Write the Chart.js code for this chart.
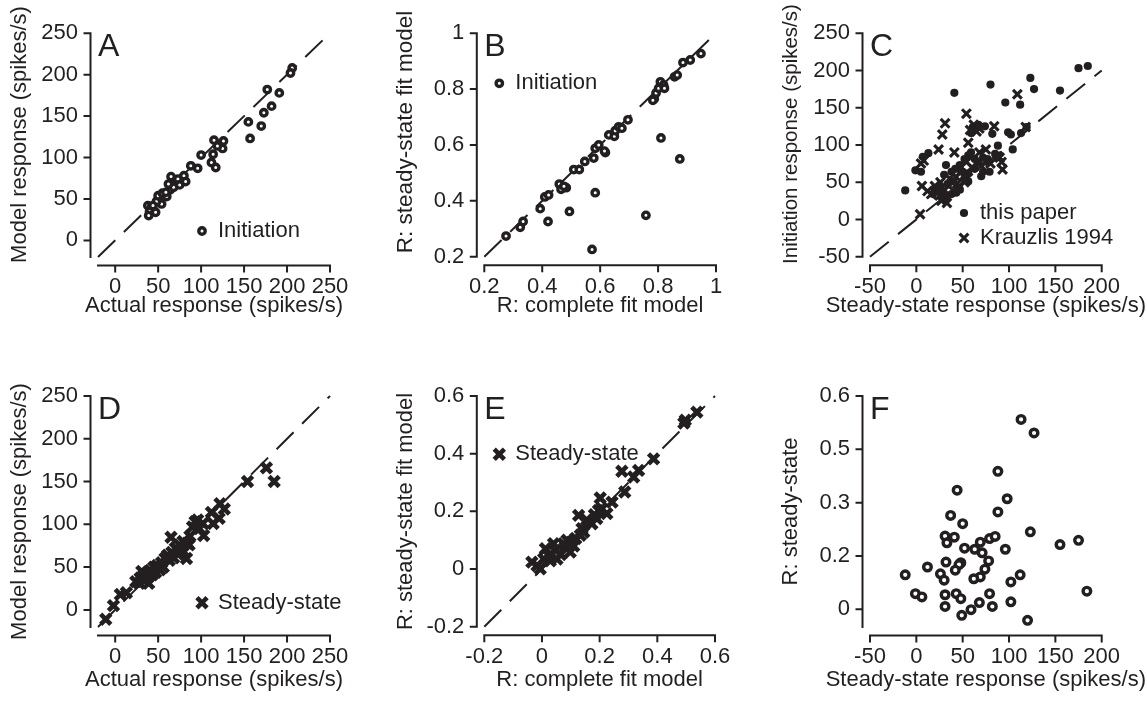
<!DOCTYPE html>
<html>
<head>
<meta charset="utf-8">
<title>Model fits</title>
<script src="https://cdn.jsdelivr.net/npm/chart.js@4.4.1/dist/chart.umd.min.js"></script>
<style>
  html, body { margin: 0; padding: 0; background: #fff; }
  #wrap { position: relative; width: 1147px; height: 701px; overflow: hidden; }
  #wrap canvas { position: absolute; left: 0; top: 0; }
</style>
</head>
<body>
<div id="wrap">
  <canvas id="panelA" width="1147" height="701"></canvas>
  <canvas id="panelB" width="1147" height="701"></canvas>
  <canvas id="panelC" width="1147" height="701"></canvas>
  <canvas id="panelD" width="1147" height="701"></canvas>
  <canvas id="panelE" width="1147" height="701"></canvas>
  <canvas id="panelF" width="1147" height="701"></canvas>
</div>
<script>
// ---- data ----

// A: initiation, actual vs model response (spikes/s)
const aActual = [206, 204, 177, 191, 182, 173, 170, 155, 157, 115, 126, 125, 119, 114, 112, 117, 100, 88, 96, 80, 82, 73, 65, 65, 75, 64, 60, 50, 54, 48, 38, 42, 40, 47, 39, 44, 50, 55, 59, 68, 62];
const aModel  = [208, 202, 182, 178, 162, 154, 138, 143, 123, 121, 120, 111, 114, 104, 94, 88, 103, 90, 87, 78, 71, 74, 77, 68, 67, 61, 53, 49, 44, 47, 42, 40, 35, 34, 30, 42, 54, 57, 58, 64, 68];

// B: initiation, R of complete fit vs R of steady-state fit
const bComplete = [0.275, 0.324, 0.334, 0.393, 0.420, 0.409, 0.422, 0.494, 0.459, 0.465, 0.483, 0.475, 0.583, 0.572, 0.758, 0.509, 0.528, 0.547, 0.578, 0.583, 0.595, 0.618, 0.615, 0.630, 0.649, 0.652, 0.664, 0.675, 0.696, 0.810, 0.875, 0.787, 0.782, 0.793, 0.802, 0.808, 0.819, 0.822, 0.857, 0.866, 0.886, 0.911, 0.948];
const bSteady   = [0.274, 0.305, 0.326, 0.372, 0.326, 0.414, 0.421, 0.362, 0.460, 0.441, 0.447, 0.452, 0.429, 0.226, 0.348, 0.512, 0.512, 0.541, 0.553, 0.588, 0.600, 0.573, 0.578, 0.636, 0.631, 0.651, 0.665, 0.660, 0.690, 0.625, 0.550, 0.765, 0.760, 0.786, 0.803, 0.826, 0.815, 0.803, 0.844, 0.850, 0.895, 0.904, 0.927];

// C: steady-state vs initiation response (spikes/s)
const cPaperSteady = [-12, 41, 80, 123, 127, 155, 175, 185, 96, 112, 99, 102, 104, 113, 119, 88, 13, 7, -1, 5, 32, 47, 72, 79, 77, 61, 67, 74, 82, 59, 30, 38, 42, 47, 52, 56, 50, 56, 63, 67, 70, 77, 56, 40, 34, 25, 27, 20, 18, 38, 43, 32, 52, 59, 72, 85, 63];
const cPaperInit   = [39, 170, 181, 190, 175, 173, 203, 206, 157, 154, 117, 114, 94, 116, 124, 99, 89, 84, 66, 64, 73, 40, 64, 64, 77, 124, 127, 125, 115, 116, 60, 64, 68, 73, 81, 86, 64, 62, 68, 77, 58, 81, 51, 51, 47, 42, 36, 42, 34, 34, 36, 30, 55, 90, 83, 88, 81];
const cKrauzSteady = [4, 109, 54, 31, 28, 24, 8, 5, 41, 84, 75, 62, 68, 56, 92, 93, 90, 6, 12, 16, 27, 33, 25, 36, 43, 47, 54, 68, 58, 65, 118, 88, 48, 30, 20, 35, 60, 52, 44, 26, 70, 80];
const cKrauzInit   = [7, 168, 142, 129, 114, 94, 79, 75, 90, 125, 94, 127, 122, 103, 77, 67, 83, 45, 38, 34, 25, 22, 32, 55, 57, 63, 77, 90, 120, 118, 124, 85, 70, 40, 45, 45, 70, 50, 48, 50, 72, 75];

// D: steady-state, actual vs model response (spikes/s)
const dActual = [-11, -2, 6, 13, 65, 86, 71, 83, 96, 103, 112, 122, 127, 114, 102, 121, 154, 176, 185, 24, 28, 29, 33, 34, 37, 38, 41, 43, 45, 47, 49, 52, 54, 56, 61, 63, 66, 68, 70, 73, 75, 77, 79, 80, 84, 87, 90, 93, 98, 31, 39, 58];
const dModel  = [-11, 5, 18, 20, 85, 76, 72, 60, 105, 87, 114, 124, 118, 101, 101, 107, 150, 166, 150, 33, 31, 37, 40, 35, 43, 38, 46, 41, 50, 44, 52, 47, 55, 50, 64, 58, 67, 61, 72, 65, 76, 70, 80, 68, 78, 86, 97, 103, 95, 45, 31, 60];

// E: steady-state, R of complete fit vs R of steady-state fit
const eComplete = [0.537, 0.497, 0.492, 0.387, 0.277, 0.335, 0.318, 0.287, 0.243, 0.202, 0.208, 0.225, 0.127, 0.173, 0.190, 0.139, 0.133, 0.117, 0.087, 0.081, 0.098, 0.075, 0.040, 0.012, 0.023, 0.006, -0.006, -0.035, -0.017, 0.029, 0.046, 0.052, 0.110, 0.100, 0.065, 0.155, 0.196, 0.182, 0.145];
const eSteady   = [0.544, 0.516, 0.506, 0.382, 0.339, 0.342, 0.319, 0.267, 0.232, 0.246, 0.209, 0.192, 0.186, 0.157, 0.175, 0.140, 0.117, 0.106, 0.100, 0.077, 0.059, 0.088, 0.088, 0.070, 0.047, 0.035, 0.001, 0.024, 0.012, 0.029, 0.065, 0.035, 0.080, 0.092, 0.050, 0.170, 0.203, 0.188, 0.128];

// F: steady-state response vs R steady-state
const fSteady = [113, 127, 88, 44, 98, 88, 37, 50, 123, 155, 175, 184, 31, 41, 33, 52, 63, 69, 71, 79, 85, 96, 78, 74, 69, 62, 48, 46, 42, 32, 26, 30, 12, -12, -1, 6, 31, 31, 43, 48, 49, 59, 68, 79, 82, 102, 102, 112, 120];
const fR      = [0.534, 0.496, 0.388, 0.335, 0.311, 0.274, 0.264, 0.241, 0.218, 0.182, 0.194, 0.051, 0.206, 0.203, 0.187, 0.172, 0.169, 0.189, 0.159, 0.199, 0.205, 0.169, 0.136, 0.113, 0.091, 0.086, 0.131, 0.126, 0.110, 0.133, 0.100, 0.082, 0.119, 0.097, 0.044, 0.035, 0.041, 0.008, 0.044, 0.030, -0.017, -0.001, 0.019, 0.044, 0.008, 0.021, 0.077, 0.097, -0.031];

// unity lines (start, end)
const diagResp  = [-20, 250];
const diagR     = [0.2, 1];
const diagC     = [-50, 200];
const diagRss   = [-0.2, 0.6];

// tick values and labels
const respTicks   = [0, 50, 100, 150, 200, 250];
const respLabels  = ['0', '50', '100', '150', '200', '250'];
const rTicks      = [0.2, 0.4, 0.6, 0.8, 1];
const rLabels     = ['0.2', '0.4', '0.6', '0.8', '1'];
const cxTicks     = [-50, 0, 50, 100, 150, 200];
const cxLabels    = ['-50', '0', '50', '100', '150', '200'];
const cyTicks     = [-50, 0, 50, 100, 150, 200, 250];
const cyLabels    = ['-50', '0', '50', '100', '150', '200', '250'];
const rssTicks    = [-0.2, 0, 0.2, 0.4, 0.6];
const rssLabels   = ['-0.2', '0', '0.2', '0.4', '0.6'];
const fyTicks     = [0, 0.15, 0.3, 0.45, 0.6];
const fyLabels    = ['0', '0.2', '0.3', '0.5', '0.6'];

// ---- styling ----
const W = 1147, H = 701;
const ink = '#231f20';
const FONT = '"Liberation Sans", Arial, Helvetica, sans-serif';
Chart.defaults.font.family = FONT;

const ring    = { pointStyle: 'circle', radius: 3.2, borderWidth: 3.4, bg: '#fff' };
const bigRing = { pointStyle: 'circle', radius: 3.8, borderWidth: 3.4, bg: '#fff' };
const dot     = { pointStyle: 'circle', radius: 4.1, borderWidth: 0, bg: ink };
const thinX   = { pointStyle: 'crossRot', radius: 6.2, borderWidth: 3.1, bg: ink };
const heavyX  = { pointStyle: 'crossRot', radius: 7.2, borderWidth: 4.6, bg: ink };

function scatterSet(xs, ys, m) {
    return {
        data: xs.map((x, i) => ({ x: x, y: ys[i] })),
        pointStyle: m.pointStyle,
        pointRadius: m.radius,
        pointBorderWidth: m.borderWidth,
        pointBackgroundColor: m.bg,
        pointBorderColor: ink,
        showLine: false,
        clip: false
    };
}

function diagSet(ends) {
    return {
        data: ends.map(v => ({ x: v, y: v })),
        showLine: true,
        borderColor: ink,
        borderWidth: 2,
        borderDash: [24, 12],
        pointRadius: 0,
        clip: false
    };
}

// spines, letter, axis titles and legend
const panelDecor = {
    id: 'panelDecor',
    afterDraw(chart, args, o) {
        const { ctx, chartArea: ca } = chart;
        const xs = chart.scales.x, ys = chart.scales.y;
        ctx.save();
        ctx.strokeStyle = ink;
        ctx.fillStyle = ink;
        ctx.lineWidth = 2;
        ctx.lineCap = 'butt';

        // axes are set a little away from the data area
        const sx = ca.left - 7.5, sy = ca.bottom + 8.5;
        ctx.beginPath();
        ctx.moveTo(sx, ys.getPixelForValue(ys.min) + 1);
        ctx.lineTo(sx, ys.getPixelForValue(ys.max) - 1);
        ys.ticks.forEach(t => {
            const p = ys.getPixelForValue(t.value);
            ctx.moveTo(sx + 1, p);
            ctx.lineTo(sx - 7, p);
        });
        ctx.moveTo(xs.getPixelForValue(xs.min) - 1, sy);
        ctx.lineTo(xs.getPixelForValue(xs.max) + 1, sy);
        xs.ticks.forEach(t => {
            const p = xs.getPixelForValue(t.value);
            ctx.moveTo(p, sy - 1);
            ctx.lineTo(p, sy + 7);
        });
        ctx.stroke();

        // panel letter
        ctx.font = '32px ' + FONT;
        ctx.textAlign = 'left';
        ctx.textBaseline = 'alphabetic';
        ctx.fillText(o.letter, ca.left, ca.top + 23);

        // axis titles
        ctx.font = '22px ' + FONT;
        ctx.textAlign = 'center';
        ctx.textBaseline = 'middle';
        ctx.fillText(o.xTitle, (ca.left + ca.right) / 2, o.xTitleY);
        ctx.save();
        ctx.font = (o.yTitleSize || 22) + 'px ' + FONT;
        ctx.translate(o.yTitleX, o.yTitleY);
        ctx.rotate(-Math.PI / 2);
        ctx.fillText(o.yTitle, 0, 0);
        ctx.restore();

        // legend
        ctx.textAlign = 'left';
        (o.legend || []).forEach(item => {
            const m = item.marker;
            ctx.lineWidth = m.borderWidth;
            ctx.fillStyle = m.bg;
            ctx.strokeStyle = ink;
            Chart.helpers.drawPoint(ctx, { pointStyle: m.pointStyle, radius: m.radius, borderWidth: m.borderWidth, rotation: 0 }, item.x, item.y);
            ctx.fillStyle = ink;
            ctx.fillText(item.text, item.x + 16, item.y);
        });
        ctx.restore();
    }
};

function axis(range, tickVals, tickLabels, isX) {
    return {
        type: 'linear',
        min: range[0],
        max: range[1],
        afterFit: s => { if (isX) { s.height = 40; } else { s.width = 60; } },
        afterBuildTicks: s => { s.ticks = tickVals.map(v => ({ value: v })); },
        grid: { display: false, drawTicks: false },
        border: { display: false },
        ticks: {
            autoSkip: false,
            maxRotation: 0,
            minRotation: 0,
            padding: isX ? 17 : 20,
            color: ink,
            font: { family: FONT, size: 22 },
            callback: (v, i) => tickLabels[i]
        }
    };
}

function makePanel(id, p) {
    return new Chart(document.getElementById(id), {
        type: 'scatter',
        data: { datasets: p.datasets },
        options: {
            responsive: false,
            animation: false,
            devicePixelRatio: 1,
            events: [],
            layout: {
                padding: { left: p.area.l - 60, top: p.area.t, right: W - p.area.r, bottom: H - p.area.b - 40 }
            },
            scales: {
                x: axis(p.xRange, p.xTicks, p.xLabels, true),
                y: axis(p.yRange, p.yTicks, p.yLabels, false)
            },
            plugins: {
                legend: { display: false },
                tooltip: { enabled: false },
                panelDecor: p.decor
            }
        },
        plugins: [panelDecor]
    });
}

makePanel('panelA', {
    area: { l: 98, t: 25, r: 330, b: 257 },
    xRange: [-20, 250], yRange: [-20, 250],
    xTicks: respTicks, xLabels: respLabels, yTicks: respTicks, yLabels: respLabels,
    datasets: [scatterSet(aActual, aModel, ring), diagSet(diagResp)],
    decor: {
        letter: 'A',
        xTitle: 'Actual response (spikes/s)', xTitleY: 306,
        yTitle: 'Model response (spikes/s)', yTitleX: 20, yTitleY: 134.5,
        legend: [{ marker: ring, x: 202, y: 231, text: 'Initiation' }]
    }
});

makePanel('panelB', {
    area: { l: 484.3, t: 25, r: 716, b: 256.7 },
    xRange: [0.2, 1], yRange: [0.2, 1],
    xTicks: rTicks, xLabels: rLabels, yTicks: rTicks, yLabels: rLabels,
    datasets: [scatterSet(bComplete, bSteady, ring), diagSet(diagR)],
    decor: {
        letter: 'B',
        xTitle: 'R: complete fit model', xTitleY: 306,
        yTitle: 'R: steady-state fit model', yTitleX: 406, yTitleY: 132, yTitleSize: 22.5,
        legend: [{ marker: ring, x: 499.3, y: 83.3, text: 'Initiation' }]
    }
});

makePanel('panelC', {
    area: { l: 870, t: 25, r: 1101.7, b: 256.7 },
    xRange: [-50, 200], yRange: [-50, 250],
    xTicks: cxTicks, xLabels: cxLabels, yTicks: cyTicks, yLabels: cyLabels,
    datasets: [
        scatterSet(cKrauzSteady, cKrauzInit, thinX),
        scatterSet(cPaperSteady, cPaperInit, dot),
        diagSet(diagC)
    ],
    decor: {
        letter: 'C',
        xTitle: 'Steady-state response (spikes/s)', xTitleY: 306,
        yTitle: 'Initiation response (spikes/s)', yTitleX: 791, yTitleY: 134, yTitleSize: 20.5,
        legend: [
            { marker: dot, x: 964, y: 213, text: 'this paper' },
            { marker: thinX, x: 964, y: 238, text: 'Krauzlis 1994' }
        ]
    }
});

makePanel('panelD', {
    area: { l: 98, t: 396, r: 330, b: 627 },
    xRange: [-20, 250], yRange: [-20, 250],
    xTicks: respTicks, xLabels: respLabels, yTicks: respTicks, yLabels: respLabels,
    datasets: [scatterSet(dActual, dModel, heavyX), diagSet(diagResp)],
    decor: {
        letter: 'D',
        xTitle: 'Actual response (spikes/s)', xTitleY: 680,
        yTitle: 'Model response (spikes/s)', yTitleX: 20, yTitleY: 511.5,
        legend: [{ marker: heavyX, x: 202, y: 602.7, text: 'Steady-state' }]
    }
});

makePanel('panelE', {
    area: { l: 484.3, t: 396, r: 715, b: 626.7 },
    xRange: [-0.2, 0.6], yRange: [-0.2, 0.6],
    xTicks: rssTicks, xLabels: rssLabels, yTicks: rssTicks, yLabels: rssLabels,
    datasets: [scatterSet(eComplete, eSteady, heavyX), diagSet(diagRss)],
    decor: {
        letter: 'E',
        xTitle: 'R: complete fit model', xTitleY: 680,
        yTitle: 'R: steady-state fit model', yTitleX: 406, yTitleY: 511.5,
        legend: [{ marker: heavyX, x: 499.3, y: 454.3, text: 'Steady-state' }]
    }
});

makePanel('panelF', {
    area: { l: 870, t: 396, r: 1101.7, b: 627.1 },
    xRange: [-50, 200], yRange: [-0.05, 0.6],
    xTicks: cxTicks, xLabels: cxLabels, yTicks: fyTicks, yLabels: fyLabels,
    datasets: [scatterSet(fSteady, fR, bigRing)],
    decor: {
        letter: 'F',
        xTitle: 'Steady-state response (spikes/s)', xTitleY: 680,
        yTitle: 'R: steady-state', yTitleX: 791, yTitleY: 511.5,
        legend: []
    }
});
</script>
</body>
</html>
